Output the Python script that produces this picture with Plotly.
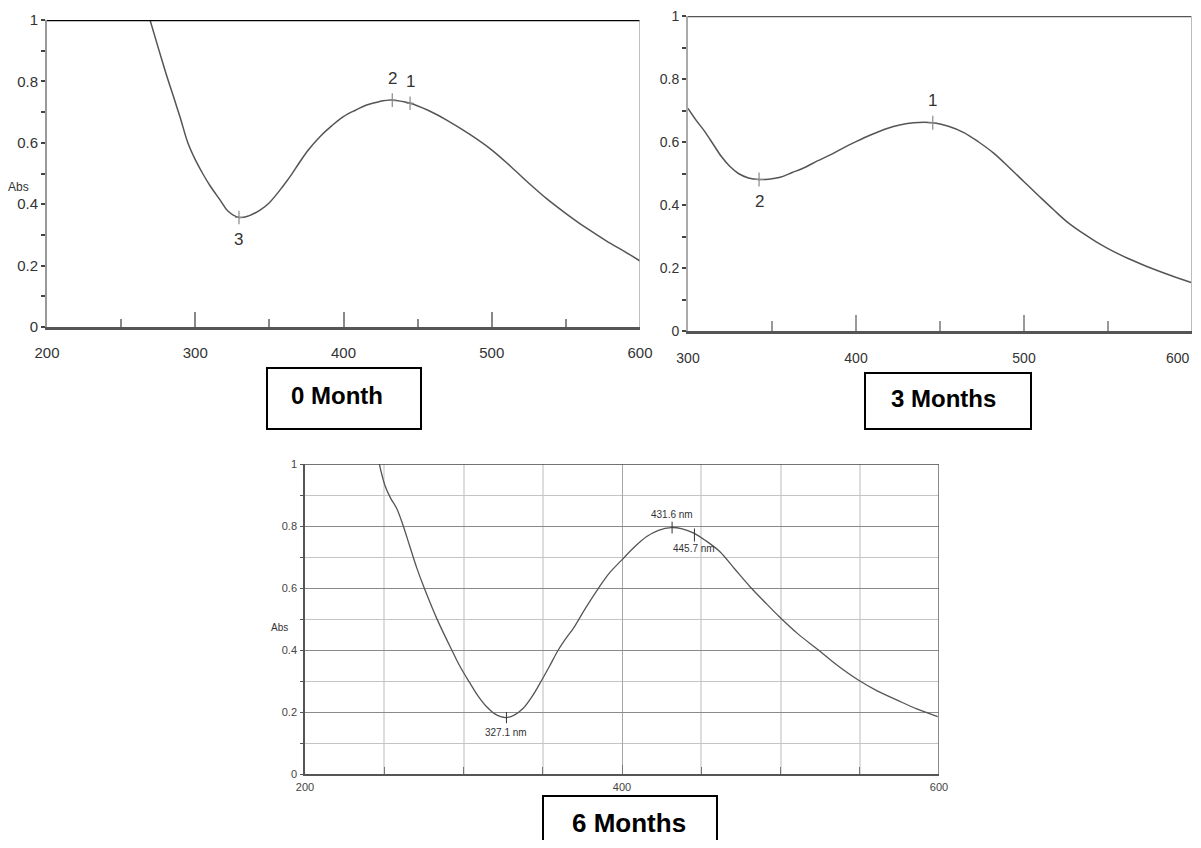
import plotly.graph_objects as go

W, H = 1201, 848
OFF = 8                      # the page body margin that surrounds the figure
FW, FH = W - 2 * OFF, H - 2 * OFF

# ---------------- data ----------------
# 0 Month
wl0 = [269.5, 275, 280, 286, 290, 295, 300, 305, 310, 316.7, 322, 329.5, 336, 343.7,
       350, 359.4, 365, 369.5, 376, 384.1, 392, 399.9, 408, 415.6, 424, 432.9, 444.9,
       457, 469.6, 485, 499.9, 513, 525.8, 537, 549.4, 563, 577.5, 590, 600]
abs0 = [1.0, 0.91, 0.83, 0.74, 0.68, 0.60, 0.545, 0.50, 0.46, 0.414, 0.378, 0.357, 0.362, 0.381,
        0.405, 0.46, 0.497, 0.53, 0.575, 0.62, 0.655, 0.685, 0.706, 0.723, 0.734, 0.739, 0.729,
        0.706, 0.674, 0.628, 0.577, 0.522, 0.465, 0.418, 0.372, 0.325, 0.280, 0.245, 0.215]
pk0_x = [444.9, 432.9, 329.5]
pk0_y = [0.729, 0.739, 0.357]
pk0_lbl = ["1", "2", "3"]
pk0_pos = ["above", "above", "below"]

# 3 Months
wl3 = [300, 305, 310, 315, 320, 325, 330, 336, 342.3, 348, 354.9, 362, 369.8, 377, 384.7,
       392, 400, 409, 418.5, 426, 434.4, 445.7, 455, 464.2, 473, 482.1, 491, 500, 509,
       517.8, 526, 535.7, 543, 550.3, 562, 573.5, 587, 600]
abs3 = [0.707, 0.668, 0.633, 0.593, 0.553, 0.522, 0.50, 0.486, 0.481, 0.482, 0.488, 0.503,
        0.52, 0.54, 0.559, 0.58, 0.601, 0.623, 0.643, 0.654, 0.661, 0.661, 0.65, 0.630, 0.600,
        0.564, 0.52, 0.474, 0.428, 0.384, 0.345, 0.308, 0.283, 0.261, 0.230, 0.204, 0.177, 0.153]
pk3_x = [445.7, 342.3]
pk3_y = [0.661, 0.481]
pk3_lbl = ["1", "2"]
pk3_pos = ["above", "below"]

# 6 Months
wl6 = [246.9, 250.5, 254, 257.8, 262, 266.2, 270.5, 275.3, 283.1, 292.6, 298, 304.1, 309,
       314.6, 320, 326.6, 332, 337.7, 343, 348.3, 354, 359.8, 365, 369.3, 377, 385.1, 392,
       399.8, 408, 415.6, 423, 431, 438, 445, 453, 461.8, 471, 480.8, 490, 499.1, 511,
       523.9, 536, 549.1, 561, 573.3, 586, 599.2]
abs6 = [1.0, 0.93, 0.89, 0.857, 0.80, 0.733, 0.665, 0.599, 0.502, 0.40, 0.345, 0.293, 0.253,
        0.217, 0.193, 0.182, 0.19, 0.212, 0.248, 0.293, 0.345, 0.40, 0.44, 0.47, 0.535, 0.599,
        0.648, 0.690, 0.733, 0.766, 0.786, 0.795, 0.791, 0.778, 0.752, 0.717, 0.662, 0.604,
        0.555, 0.508, 0.452, 0.40, 0.35, 0.303, 0.268, 0.239, 0.210, 0.185]
pk6_x = [327.1, 431.6, 445.7]
pk6_y = [0.182, 0.795, 0.776]
pk6_lbl = ["327.1 nm", "431.6 nm", "445.7 nm"]

panel_titles = ["0 Month", "3 Months", "6 Months"]
y_ticks = [0, 0.2, 0.4, 0.6, 0.8, 1]
y_ticktext = ["0", "0.2", "0.4", "0.6", "0.8", "1"]
y_minor = [0.1, 0.3, 0.5, 0.7, 0.9]
x2_ticks = [300, 400, 500]
x2_ticktext = ["300", "400", "500"]
x2_last = 600

# ---------------- helpers (page pixel -> paper fraction) ----------------
def fx(p):
    return (p - OFF) / FW

def fy(p):
    return 1 - (p - OFF) / FH

ARIAL = "Liberation Sans, Arial, sans-serif"
LINE = "#555555"

fig = go.Figure()
for xs, ys, xa, ya, wdt in [(wl0, abs0, "x", "y", 1.5), (wl3, abs3, "x2", "y2", 1.5),
                            (wl6, abs6, "x3", "y3", 1.3)]:
    fig.add_trace(go.Scatter(x=xs, y=ys, mode="lines", xaxis=xa, yaxis=ya,
                             line=dict(color=LINE, width=wdt, shape="spline", smoothing=1.0),
                             showlegend=False, hoverinfo="skip"))

big_font = dict(family=ARIAL, size=15, color="#333")

layout = dict(
    width=FW, height=FH, margin=dict(l=0, r=0, t=0, b=0, autoexpand=False),
    paper_bgcolor="white", plot_bgcolor="white",
    # panel 1
    xaxis=dict(domain=[fx(47), fx(640)], range=[200, 600], anchor="y", automargin=False,
               showgrid=False, zeroline=False, showline=True, linecolor="#555", linewidth=2.5,
               ticks="inside", ticklen=15, tickwidth=1.5, tickcolor="#888",
               tickvals=[200, 300, 400, 500, 600], ticktext=["200", "300", "400", "500", "600"],
               minor=dict(tickvals=[250, 350, 450, 550], ticks="inside", ticklen=8,
                          tickwidth=1.5, tickcolor="#888"),
               tickfont=big_font, ticklabelstandoff=10, ticklabeloverflow="allow"),
    yaxis=dict(domain=[fy(327), fy(20)], range=[0, 1], anchor="x", automargin=False,
               showgrid=False, zeroline=False, showline=True, linecolor="#999", linewidth=2,
               ticks="outside", ticklen=4, tickwidth=2, tickcolor="#444",
               tickvals=y_ticks, ticktext=y_ticktext,
               minor=dict(tickvals=y_minor, ticks="outside", ticklen=4, tickwidth=2, tickcolor="#444"),
               tickfont=big_font, ticklabelstandoff=0, ticklabeloverflow="allow"),
    # panel 2
    xaxis2=dict(domain=[fx(688), fx(1192)], range=[300, 600], anchor="y2", automargin=False,
                showgrid=False, zeroline=False, showline=True, linecolor="#555", linewidth=2.5,
                ticks="inside", ticklen=16, tickwidth=1.5, tickcolor="#999",
                tickvals=x2_ticks, ticktext=x2_ticktext,
                minor=dict(tickvals=[350, 450, 550], ticks="inside", ticklen=10,
                           tickwidth=1.5, tickcolor="#999"),
                tickfont=dict(family=ARIAL, size=14, color="#333"), ticklabelstandoff=12,
                ticklabeloverflow="allow"),
    yaxis2=dict(domain=[fy(331), fy(16)], range=[0, 1], anchor="x2", automargin=False,
                showgrid=False, zeroline=False, showline=True, linecolor="#aaa", linewidth=2,
                ticks="outside", ticklen=4, tickwidth=2, tickcolor="#444",
                tickvals=y_ticks, ticktext=y_ticktext,
                minor=dict(tickvals=y_minor, ticks="outside", ticklen=4, tickwidth=2, tickcolor="#444"),
                tickfont=dict(family=ARIAL, size=14, color="#333"), ticklabelstandoff=0,
                ticklabeloverflow="allow"),
    # panel 3
    xaxis3=dict(domain=[fx(305), fx(939)], range=[200, 600], anchor="y3", automargin=False,
                showgrid=True, gridcolor="#a8a8a8", gridwidth=1, zeroline=False,
                showline=True, linecolor="#555", linewidth=1.5,
                ticks="inside", ticklen=9, tickwidth=1, tickcolor="#777",
                tickvals=[200, 400, 600], ticktext=["200", "400", "600"],
                minor=dict(tickvals=[250, 300, 350, 450, 500, 550], ticks="inside", ticklen=7,
                           tickwidth=1, tickcolor="#777", showgrid=True, gridcolor="#dddddd",
                           gridwidth=1.5),
                tickfont=dict(family=ARIAL, size=11, color="#444"), ticklabelstandoff=2,
                ticklabeloverflow="allow"),
    yaxis3=dict(domain=[fy(774), fy(464)], range=[0, 1], anchor="x3", automargin=False,
                showgrid=True, gridcolor="#8a8a8a", gridwidth=1, zeroline=False,
                showline=True, linecolor="#555", linewidth=1.5,
                ticks="outside", ticklen=3, tickwidth=1, tickcolor="#555",
                tickvals=y_ticks, ticktext=y_ticktext,
                minor=dict(tickvals=y_minor, ticks="outside", ticklen=3, tickwidth=1,
                           tickcolor="#555", showgrid=True, gridcolor="#c4c4c4", gridwidth=1),
                tickfont=dict(family=ARIAL, size=11, color="#444"), ticklabelstandoff=1,
                ticklabeloverflow="allow"),
)
fig.update_layout(**layout)

shapes = []
annotations = []

# borders panel 1
shapes.append(dict(type="line", xref="x domain", yref="y", x0=0, x1=1, y0=1, y1=1,
                   line=dict(color="black", width=2.5)))
shapes.append(dict(type="line", xref="x", yref="y domain", x0=600, x1=600, y0=0, y1=1,
                   line=dict(color="#aaa", width=1.5)))
# borders panel 2
shapes.append(dict(type="line", xref="x2 domain", yref="y2", x0=0, x1=1, y0=1, y1=1,
                   line=dict(color="#555", width=2.5)))
shapes.append(dict(type="line", xref="x2", yref="y2 domain", x0=600, x1=600, y0=0, y1=1,
                   line=dict(color="#bbb", width=2)))
# last x label of panel 2, kept inside the page edge
annotations.append(dict(x=x2_last, y=0, xref="x2", yref="y2", text=str(x2_last),
                        showarrow=False, xanchor="right", yanchor="middle", yshift=-27,
                        font=dict(family=ARIAL, size=14, color="#333")))
# borders panel 3
shapes.append(dict(type="line", xref="x3 domain", yref="y3", x0=0, x1=1, y0=1, y1=1,
                   line=dict(color="#444", width=1.5)))
shapes.append(dict(type="line", xref="x3", yref="y3 domain", x0=600, x1=600, y0=0, y1=1,
                   line=dict(color="#666", width=1.5)))

# peak marks panel 1 and 2 (plus-shaped)
for xs, ys, lbls, poss, xr, yr in [(pk0_x, pk0_y, pk0_lbl, pk0_pos, "x", "y"),
                                   (pk3_x, pk3_y, pk3_lbl, pk3_pos, "x2", "y2")]:
    for xv, yv, lb, pos in zip(xs, ys, lbls, poss):
        shapes.append(dict(type="line", xref=xr, yref=yr, x0=xv, x1=xv, y0=yv - 0.022, y1=yv + 0.022,
                           line=dict(color="#888", width=1.2)))
        shapes.append(dict(type="line", xref=xr, yref=yr, x0=xv - 2.6, x1=xv + 2.6, y0=yv, y1=yv,
                           line=dict(color="#888", width=1.2)))
        annotations.append(dict(x=xv, y=yv, xref=xr, yref=yr, text=lb, showarrow=False,
                                xanchor="center", yanchor="middle",
                                yshift=22 if pos == "above" else -22,
                                font=dict(family=ARIAL, size=17, color="#333")))

# peak marks panel 3
mark_span = [(-0.018, 0.018), (-0.019, 0.019), (-0.026, 0.016)]
lbl_shift = [-15, 13, -15]
for xv, yv, lb, sp, sh in zip(pk6_x, pk6_y, pk6_lbl, mark_span, lbl_shift):
    shapes.append(dict(type="line", xref="x3", yref="y3", x0=xv, x1=xv, y0=yv + sp[0], y1=yv + sp[1],
                       line=dict(color="#333", width=1)))
    annotations.append(dict(x=xv, y=yv, xref="x3", yref="y3", text=lb, showarrow=False,
                            xanchor="center", yanchor="middle",
                            yshift=sh, font=dict(family=ARIAL, size=10, color="#333")))

# Abs labels
annotations.append(dict(x=fx(18), y=fy(187), xref="paper", yref="paper", text="Abs",
                        xanchor="center", yanchor="middle",
                        showarrow=False, font=dict(family=ARIAL, size=12, color="#333")))
annotations.append(dict(x=fx(279), y=fy(627), xref="paper", yref="paper", text="Abs",
                        xanchor="center", yanchor="middle",
                        showarrow=False, font=dict(family=ARIAL, size=10, color="#333")))

# title boxes
boxes = [((267, 368, 421, 429), (337, 395), 24),
         ((865, 373, 1031, 429), (943, 398), 24),
         ((543, 796, 717, 852), (629, 823), 26)]
for title, (rect, ctr, fs) in zip(panel_titles, boxes):
    shapes.append(dict(type="rect", xref="paper", yref="paper",
                       x0=fx(rect[0]), x1=fx(rect[2]), y0=fy(rect[3]), y1=fy(rect[1]),
                       line=dict(color="black", width=2), fillcolor="rgba(0,0,0,0)"))
    annotations.append(dict(x=fx(ctr[0]), y=fy(ctr[1]), xref="paper", yref="paper",
                            xanchor="center", yanchor="middle",
                            text="<b>" + title + "</b>", showarrow=False,
                            font=dict(family=ARIAL, size=fs, color="black")))

fig.update_layout(shapes=shapes, annotations=annotations)
fig.write_html("out.html")
